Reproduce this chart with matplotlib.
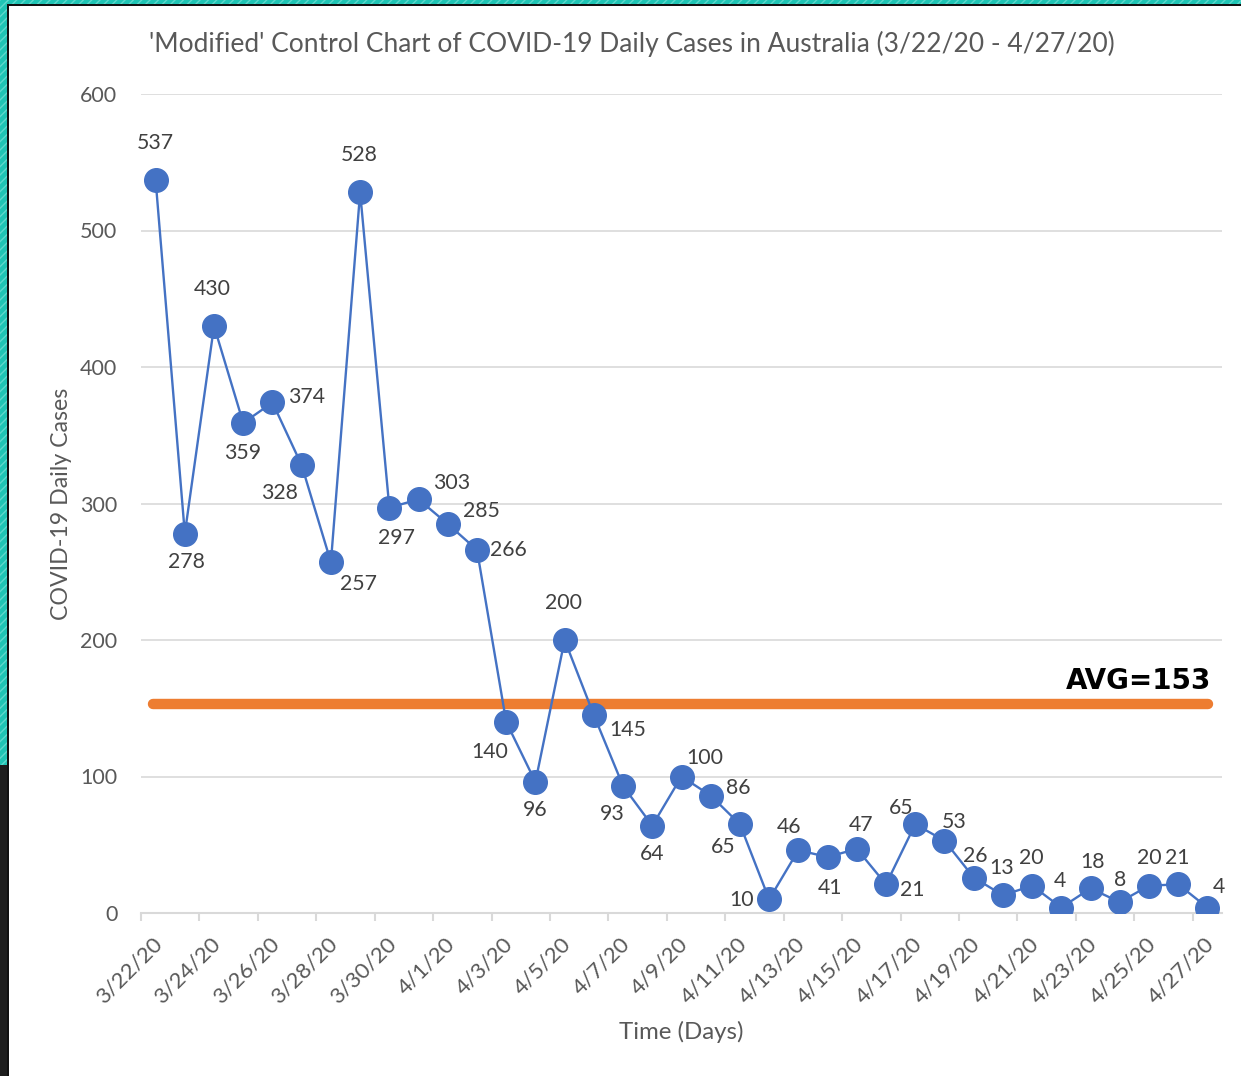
import numpy as np
import matplotlib.pyplot as plt
from matplotlib.patches import Rectangle
from matplotlib.transforms import ScaledTranslation

# daily new cases, 3/22/20 .. 4/27/20
dates = ['3/22/20', '3/23/20', '3/24/20', '3/25/20', '3/26/20', '3/27/20', '3/28/20', '3/29/20',
         '3/30/20', '3/31/20', '4/1/20', '4/2/20', '4/3/20', '4/4/20', '4/5/20', '4/6/20',
         '4/7/20', '4/8/20', '4/9/20', '4/10/20', '4/11/20', '4/12/20', '4/13/20', '4/14/20',
         '4/15/20', '4/16/20', '4/17/20', '4/18/20', '4/19/20', '4/20/20', '4/21/20', '4/22/20',
         '4/23/20', '4/24/20', '4/25/20', '4/26/20', '4/27/20']
cases = [537, 278, 430, 359, 374, 328, 257, 528, 297, 303, 285, 266, 140, 96, 200, 145,
         93, 64, 100, 86, 65, 10, 46, 41, 47, 21, 65, 53, 26, 13, 20, 4, 18, 8, 20, 21, 4]
avg_value = 153
yticks = [0, 100, 200, 300, 400, 500, 600]

# label offsets in pixels (dx, dy up)
lab_off = [(0, 37), (2, -28), (-2, 37), (-1, -30), (34, 5), (-22, -28), (28, -22), (-1, 37),
           (7, -30), (33, 16), (34, 13), (31, 0), (-16, -30), (0, -28), (-1, 37), (34, -15),
           (-11, -28), (0, -28), (23, 18), (28, 8), (-17, -23), (-28, -1), (-9, 23), (2, -31),
           (4, 24), (26, -6), (-14, 16), (10, 19), (2, 22), (-1, 27), (-1, 28), (-1, 27),
           (2, 26), (0, 22), (0, 28), (-1, 26), (12, 21)]

plt.rcParams['font.family'] = ['Lato', 'DejaVu Sans']
grey = '#595959'
blue = '#4472C4'
orange = '#ED7D31'

fig = plt.figure(figsize=(12.41, 10.76), dpi=100)
ax = fig.add_axes([141 / 1241, 1 - 913 / 1076, 1081 / 1241, 819 / 1076])

x = np.arange(len(cases)) + 0.5
ax.plot(x, cases, color=blue, lw=1.7, marker='o', ms=17, mfc=blue, mec=blue, zorder=4)
ax.plot([0.41, 36.52], [avg_value, avg_value], color=orange, lw=7.5, solid_capstyle='round', zorder=3)
ax.text(36.62, avg_value + 7, 'AVG=' + str(avg_value), ha='right', va='bottom',
        fontsize=20, fontweight='bold', color='black', family=['DejaVu Sans'])

for xi, v, (dx, dy) in zip(x, cases, lab_off):
    ax.annotate(str(v), (xi, v), xytext=(dx * 0.72, dy * 0.72), textcoords='offset points',
                ha='center', va='center', fontsize=15.3, color='#404040', zorder=5)

ax.set_xlim(0, len(cases))
ax.set_ylim(0, 600)
ax.set_yticks(yticks)
xt = np.arange(0, len(cases), 2)
ax.set_xticks(xt)
ax.set_xticklabels([])
off = ScaledTranslation(11 / 100, -21 / 100, fig.dpi_scale_trans)
for t, lab in zip(xt, dates[::2]):
    ax.text(t, 0, lab, transform=ax.get_xaxis_transform() + off, rotation=45,
            ha='right', va='top', rotation_mode='anchor', fontsize=16, color=grey)
ax.grid(axis='y', color='#d9d9d9', lw=1.2)
ax.set_axisbelow(True)
for s in ['top', 'right', 'left']:
    ax.spines[s].set_visible(False)
ax.spines['bottom'].set_color('#d9d9d9')
ax.spines['bottom'].set_linewidth(1.5)
ax.tick_params(axis='y', length=0, pad=17, labelsize=15.5, labelcolor=grey)
ax.tick_params(axis='x', length=6, width=1.5, color='#d9d9d9')

ax.set_ylabel('COVID-19 Daily Cases', fontsize=16.7, color=grey, labelpad=6)
ax.text(0.5, -119 / 819, 'Time (Days)', transform=ax.transAxes, ha='center', va='center',
        fontsize=17.3, color=grey)
fig.text(0.509, 1 - 44 / 1076, "'Modified' Control Chart of COVID-19 Daily Cases in Australia (3/22/20 - 4/27/20)",
         ha='center', va='center', fontsize=19, color=grey)

# frame remnants from the screenshot
fig.patches.append(Rectangle((0, 1 - 4 / 1076), 1, 4 / 1076, transform=fig.transFigure,
                             facecolor='#1fc4b4', edgecolor='#5ed8cc', hatch='////', lw=0))
fig.patches.append(Rectangle((0, 1 - 6 / 1076), 1, 2 / 1076, transform=fig.transFigure,
                             facecolor='#111111', lw=0))
fig.patches.append(Rectangle((0, 1 - 765 / 1076), 7 / 1241, 765 / 1076, transform=fig.transFigure,
                             facecolor='#1fc4b4', edgecolor='#5ed8cc', hatch='////', lw=0))
fig.patches.append(Rectangle((0, 0), 7 / 1241, 1 - 765 / 1076, transform=fig.transFigure,
                             facecolor='#1e1e1e', lw=0))
fig.patches.append(Rectangle((7 / 1241, 0), 2 / 1241, 1 - 4 / 1076, transform=fig.transFigure,
                             facecolor='#111111', lw=0))

fig.savefig('out.png', dpi=100)
